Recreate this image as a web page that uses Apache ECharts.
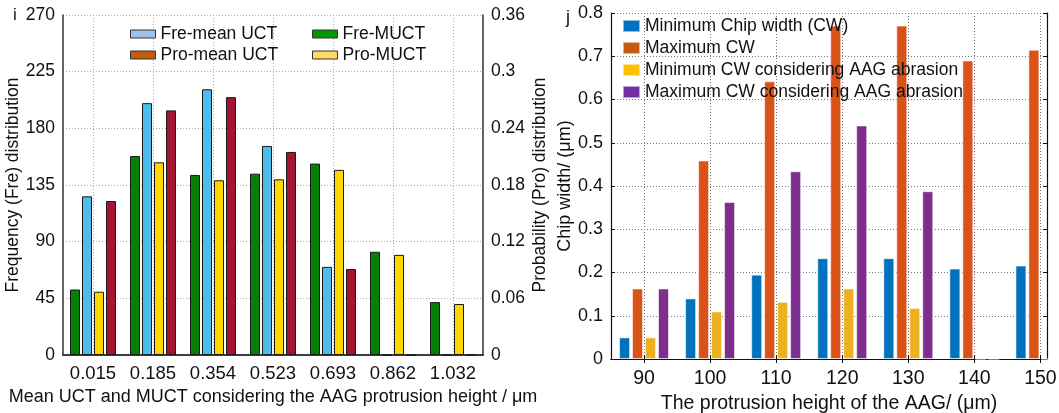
<!DOCTYPE html>
<html>
<head>
<meta charset="utf-8">
<script src="https://cdn.jsdelivr.net/npm/echarts@6/dist/echarts.min.js"></script>
<style>
  html, body { margin: 0; padding: 0; background: #fff; }
  #chart { width: 1059px; height: 413px; }
</style>
</head>
<body>
<div id="chart"></div>
<script>
// ---- Panel i: UCT / MUCT distributions ----
const heightLabels = ['0.015', '0.185', '0.354', '0.523', '0.693', '0.862', '1.032'];
const freMUCT     = [52, 158, 143, 144, 152, 82, 42];
const freMeanUCT  = [126, 200, 211, 166, 70, 0, 0];
const proMUCT     = [0.067, 0.204, 0.185, 0.186, 0.196, 0.106, 0.054];
const proMeanUCT  = [0.163, 0.259, 0.273, 0.215, 0.091, 0, 0];

// ---- Panel j: chip width vs protrusion height ----
const protrusion  = [90, 100, 110, 120, 130, 140, 150];
const minCW       = [0.05, 0.14, 0.195, 0.233, 0.233, 0.209, 0.216];
const maxCW       = [0.163, 0.459, 0.642, 0.771, 0.771, 0.690, 0.715];
const minCWAbr    = [0.05, 0.11, 0.132, 0.163, 0.118, 0, 0];
const maxCWAbr    = [0.163, 0.363, 0.434, 0.540, 0.388, 0, 0];

const FONT = '"Liberation Sans", Arial, sans-serif';
const TXT = '#111';

const pair = (xs, ys) => xs.map((x, i) => [x, ys[i]]);

const dotted = (c) => ({ show: true, lineStyle: { color: c, width: 1, type: [1, 2] } });

const chart = echarts.init(document.getElementById('chart'), null, { renderer: 'canvas' });

const leftBar = (name, data, color, yIdx) => ({
  name, type: 'bar', xAxisIndex: 0, yAxisIndex: yIdx, data,
  barWidth: 10, barGap: '20%',
  itemStyle: { color, borderColor: '#1a1a1a', borderWidth: 1 },
  emphasis: { disabled: true }, animation: false
});

const rightBar = (name, xs, ys, color) => ({
  name, type: 'bar', xAxisIndex: 2, yAxisIndex: 2, data: pair(xs, ys),
  barWidth: 11, barGap: '18%',
  itemStyle: { color, borderColor: 'rgba(255,255,255,0.55)', borderWidth: 1 },
  emphasis: { disabled: true }, animation: false
});

const legendText = { fontFamily: FONT, fontSize: 17.5, color: TXT, lineHeight: 17 };

chart.setOption({
  animation: false,
  textStyle: { fontFamily: FONT, color: TXT },
  title: [
    { text: 'i', left: 8, top: 2, textStyle: { fontFamily: FONT, fontSize: 17, fontWeight: 'normal', color: TXT } },
    { text: 'j', left: 561, top: 4, textStyle: { fontFamily: FONT, fontSize: 18, fontWeight: 'normal', color: TXT } }
  ],
  grid: [
    { left: 63, right: 576, top: 15, bottom: 58, outerBoundsMode: 'none' },
    { left: 611, right: 12, top: 13, bottom: 54, outerBoundsMode: 'none' }
  ],
  legend: [
    {
      orient: 'vertical', left: 125, top: 20, itemWidth: 25, itemHeight: 8, itemGap: 3, icon: 'rect',
      textStyle: legendText, selectedMode: false,
      data: [
        { name: 'Fre-mean UCT', itemStyle: { color: '#9dc3e6', borderColor: '#333', borderWidth: 1 } },
        { name: 'Pro-mean UCT', itemStyle: { color: '#c55a11', borderColor: '#333', borderWidth: 1 } }
      ]
    },
    {
      orient: 'vertical', left: 307, top: 20, itemWidth: 25, itemHeight: 8, itemGap: 3, icon: 'rect',
      textStyle: legendText, selectedMode: false,
      data: [
        { name: 'Fre-MUCT', itemStyle: { color: '#009900', borderColor: '#333', borderWidth: 1 } },
        { name: 'Pro-MUCT', itemStyle: { color: '#ffd966', borderColor: '#333', borderWidth: 1 } }
      ]
    },
    {
      orient: 'vertical', left: 617, top: 12, itemWidth: 17, itemHeight: 12, itemGap: 4, icon: 'rect',
      textStyle: legendText, selectedMode: false,
      data: [
        { name: 'Minimum Chip width (CW)', itemStyle: { color: '#0070c0' } },
        { name: 'Maximum CW', itemStyle: { color: '#c55a11' } },
        { name: 'Minimum CW considering AAG abrasion', itemStyle: { color: '#ffc000' } },
        { name: 'Maximum CW considering AAG abrasion', itemStyle: { color: '#7030a0' } }
      ]
    }
  ],
  xAxis: [
    {
      type: 'category', gridIndex: 0, data: heightLabels, position: 'bottom',
      axisLine: { lineStyle: { color: '#333', width: 1.5 } },
      axisTick: { show: false },
      axisLabel: { fontSize: 18.5, color: TXT, margin: 9, interval: 0, hideOverlap: false },
      splitLine: Object.assign(dotted('#aaa'), { alignWithLabel: true }),
      name: 'Mean UCT and MUCT considering the AAG protrusion height / \u03bcm',
      nameLocation: 'middle', nameGap: 30,
      nameTextStyle: { fontSize: 18, color: TXT }
    },
    {
      type: 'category', gridIndex: 0, data: heightLabels, position: 'top',
      axisLine: { lineStyle: { color: '#333', width: 1.5 } },
      axisTick: { show: false }, axisLabel: { show: false }, splitLine: { show: false }
    },
    {
      type: 'value', gridIndex: 1, min: 85, max: 151, position: 'bottom',
      axisLine: { lineStyle: { color: '#111', width: 1.2 } },
      axisTick: { show: true, inside: true, length: 4, customValues: protrusion, lineStyle: { color: '#111' } },
      axisLabel: { fontSize: 19.5, color: TXT, margin: 10, customValues: protrusion },
      splitLine: dotted('#777'),
      name: 'The protrusion height of the AAG/ (\u03bcm)',
      nameLocation: 'middle', nameGap: 31,
      nameTextStyle: { fontSize: 19.5, color: TXT }
    },
    {
      type: 'value', gridIndex: 1, min: 85, max: 151, position: 'top',
      axisLine: { lineStyle: { color: '#111', width: 1.2 } },
      axisTick: { show: true, inside: true, length: 4, customValues: protrusion, lineStyle: { color: '#111' } },
      axisLabel: { show: false, customValues: protrusion }, splitLine: { show: false }
    }
  ],
  yAxis: [
    {
      type: 'value', gridIndex: 0, min: 0, max: 270, interval: 45,
      axisLine: { show: true, lineStyle: { color: '#333', width: 1.5 } },
      axisTick: { show: false },
      axisLabel: { fontSize: 17.5, color: TXT, margin: 8 },
      splitLine: dotted('#aaa'),
      name: 'Frequency (Fre) distribution', nameLocation: 'middle', nameGap: 38,
      nameTextStyle: { fontSize: 17.5, color: TXT }
    },
    {
      type: 'value', gridIndex: 0, min: 0, max: 0.36, interval: 0.06, position: 'right',
      axisLine: { show: true, lineStyle: { color: '#333', width: 1.5 } },
      axisTick: { show: false },
      axisLabel: { fontSize: 17.5, color: TXT, margin: 8 },
      splitLine: { show: false },
      name: 'Probability (Pro) distribution', nameLocation: 'middle', nameGap: 48,
      nameTextStyle: { fontSize: 17.5, color: TXT }
    },
    {
      type: 'value', gridIndex: 1, min: 0, max: 0.8, interval: 0.1,
      axisLine: { show: true, lineStyle: { color: '#111', width: 1.2 } },
      axisTick: { show: true, inside: true, length: 4, lineStyle: { color: '#111' } },
      axisLabel: { fontSize: 18, color: TXT, margin: 8 },
      splitLine: dotted('#777'),
      name: 'Chip width/ (\u03bcm)', nameLocation: 'middle', nameGap: 36,
      nameTextStyle: { fontSize: 18, color: TXT }
    },
    {
      type: 'value', gridIndex: 1, min: 0, max: 0.8, interval: 0.1, position: 'right',
      axisLine: { show: true, lineStyle: { color: '#111', width: 1.2 } },
      axisTick: { show: true, inside: true, length: 4, lineStyle: { color: '#111' } },
      axisLabel: { show: false }, splitLine: { show: false }
    }
  ],
  series: [
    leftBar('Fre-MUCT', freMUCT, '#078007', 0),
    leftBar('Fre-mean UCT', freMeanUCT, '#4dbdee', 0),
    leftBar('Pro-MUCT', proMUCT, '#ffd700', 1),
    leftBar('Pro-mean UCT', proMeanUCT, '#a31533', 1),
    rightBar('Minimum Chip width (CW)', protrusion, minCW, '#0072bd'),
    rightBar('Maximum CW', protrusion, maxCW, '#d95319'),
    rightBar('Minimum CW considering AAG abrasion', protrusion, minCWAbr, '#edb120'),
    rightBar('Maximum CW considering AAG abrasion', protrusion, maxCWAbr, '#7e2f8e')
  ]
});
</script>
</body>
</html>
